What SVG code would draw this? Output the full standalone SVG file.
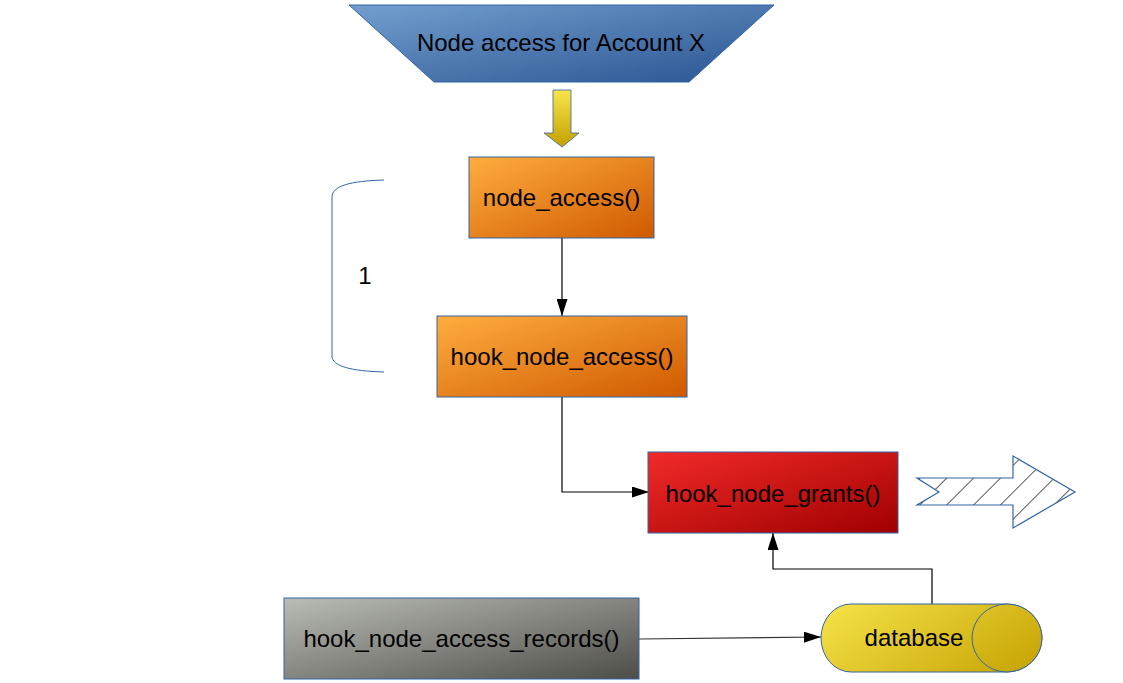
<svg xmlns="http://www.w3.org/2000/svg" width="1123" height="683" viewBox="0 0 1123 683">
<style>
  .lbl{font-family:"Liberation Sans",Arial,sans-serif;font-size:24px;fill:#000;text-anchor:middle}
  .box{stroke:#3465a4;stroke-width:1}
  .conn{fill:none;stroke:#000;stroke-width:1.2}
</style>
<defs>
  <linearGradient id="gBlue" x1="0" y1="0" x2="1" y2="1">
    <stop offset="0" stop-color="#729fcf"/>
    <stop offset="1" stop-color="#2a5391"/>
  </linearGradient>
  <linearGradient id="gOrange" x1="0" y1="0" x2="1" y2="1">
    <stop offset="0" stop-color="#ffad3f"/>
    <stop offset="1" stop-color="#cf5a00"/>
  </linearGradient>
  <linearGradient id="gRed" x1="0" y1="0" x2="1" y2="1">
    <stop offset="0" stop-color="#f22a2a"/>
    <stop offset="1" stop-color="#a00000"/>
  </linearGradient>
  <linearGradient id="gGray" x1="0" y1="0" x2="1" y2="1">
    <stop offset="0" stop-color="#babdb6"/>
    <stop offset="1" stop-color="#4c4d46"/>
  </linearGradient>
  <linearGradient id="gYellow" gradientUnits="userSpaceOnUse" x1="880" y1="560" x2="985" y2="715">
    <stop offset="0" stop-color="#f7e54b"/>
    <stop offset="1" stop-color="#c4a000"/>
  </linearGradient>
  <linearGradient id="gYellowV" x1="0" y1="0" x2="0" y2="1">
    <stop offset="0" stop-color="#f7e54b"/>
    <stop offset="1" stop-color="#c4a000"/>
  </linearGradient>
  <pattern id="hatch" patternUnits="userSpaceOnUse" width="19" height="19" patternTransform="rotate(45)">
    <rect width="19" height="19" fill="#fff"/>
    <line x1="0" y1="0" x2="0" y2="19" stroke="#000" stroke-width="1.3"/>
  </pattern>
  <marker id="arr" markerUnits="userSpaceOnUse" markerWidth="17" markerHeight="11" refX="17" refY="5.5" orient="auto">
    <path d="M0,0 L17,5.5 L0,11 z" fill="#000"/>
  </marker>
</defs>

<g id="connectors">
  <line class="conn" x1="562" y1="238" x2="562" y2="316" marker-end="url(#arr)"/>
  <polyline class="conn" points="562,397 562,492 649,492" marker-end="url(#arr)"/>
  <polyline class="conn" points="932,604 932,569 773,569 773,533" marker-end="url(#arr)"/>
  <line class="conn" x1="639" y1="639" x2="821" y2="637" marker-end="url(#arr)" style="stroke:#333"/>
</g>

<g id="node-title">
  <polygon class="box" points="349,5 774,5 689,82 434,82" fill="url(#gBlue)"/>
  <text class="lbl" x="561" y="51">Node access for Account X</text>
</g>

<g id="yellow-arrow">
  <path d="M553,90 L571,90 L571,133 L579,133 L562,147 L544,133 L553,133 z" fill="url(#gYellowV)" stroke="#3465a4" stroke-width="0.8"/>
</g>

<g id="node-access">
  <rect class="box" x="469" y="157" width="185" height="81" fill="url(#gOrange)"/>
  <text class="lbl" x="561.5" y="206">node_access()</text>
</g>

<g id="bracket">
  <path d="M384,180 C350,181 332,186 332,197 L332,356 C332,366 350,371 384,372" fill="none" stroke="#3465a4" stroke-width="1"/>
  <text class="lbl" x="365" y="284">1</text>
</g>

<g id="hook-node-access">
  <rect class="box" x="437" y="316" width="250" height="81" fill="url(#gOrange)"/>
  <text class="lbl" x="562" y="365">hook_node_access()</text>
</g>

<g id="hook-node-grants">
  <rect class="box" x="648" y="452" width="250" height="81" fill="url(#gRed)"/>
  <text class="lbl" x="773" y="502">hook_node_grants()</text>
</g>

<g id="hatched-arrow">
  <polygon points="917,478 1013,478 1013,456 1075,492 1013,528 1013,505 917,505 939,492" fill="url(#hatch)" stroke="#3465a4" stroke-width="1.2"/>
</g>

<g id="hook-node-access-records">
  <rect class="box" x="284" y="598" width="355" height="81" fill="url(#gGray)"/>
  <text class="lbl" x="461.5" y="647">hook_node_access_records()</text>
</g>

<g id="database">
  <path class="box" d="M851,604 L1007,604 A35,34 0 0 1 1007,672 L851,672 A30,34 0 0 1 851,604 z" fill="url(#gYellow)"/>
  <ellipse class="box" cx="1007" cy="638" rx="35" ry="34" fill="url(#gYellow)"/>
  <text class="lbl" x="914" y="646">database</text>
</g>
</svg>
